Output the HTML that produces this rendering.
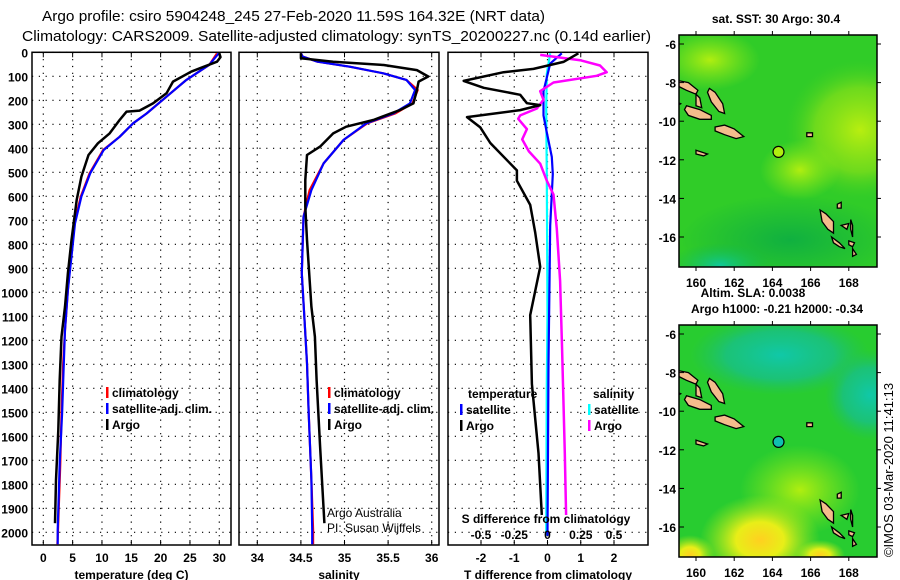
<!DOCTYPE html>
<html><head><meta charset="utf-8">
<style>
html,body{margin:0;padding:0;background:#fff;}
svg{display:block;font-family:"Liberation Sans",Arial,sans-serif;}
.b{font-weight:bold;font-size:12px;}
</style></head>
<body>
<svg id="c" width="900" height="580" viewBox="0 0 900 580" xmlns="http://www.w3.org/2000/svg">
<defs>
<clipPath id="m1"><rect x="679" y="35" width="198" height="232"/></clipPath>
<clipPath id="m2"><rect x="679" y="325" width="198" height="232"/></clipPath>
<radialGradient id="y1" cx="0.5" cy="0.5" r="0.5"><stop offset="0" stop-color="#b8ee10"/><stop offset="0.6" stop-color="#88e018" stop-opacity="0.7"/><stop offset="1" stop-color="#44d022" stop-opacity="0"/></radialGradient>
<radialGradient id="t1" cx="0.5" cy="0.5" r="0.5"><stop offset="0" stop-color="#10c898"/><stop offset="1" stop-color="#10b850" stop-opacity="0"/></radialGradient>
<radialGradient id="g1" cx="0.5" cy="0.5" r="0.5"><stop offset="0" stop-color="#10b040"/><stop offset="1" stop-color="#10b040" stop-opacity="0"/></radialGradient>
<radialGradient id="t2" cx="0.5" cy="0.5" r="0.5"><stop offset="0" stop-color="#10c8a8"/><stop offset="0.6" stop-color="#18c088" stop-opacity="0.8"/><stop offset="1" stop-color="#20c060" stop-opacity="0"/></radialGradient>
<radialGradient id="y2" cx="0.5" cy="0.5" r="0.5"><stop offset="0" stop-color="#ffd020"/><stop offset="0.4" stop-color="#e8ee18"/><stop offset="1" stop-color="#a8e818" stop-opacity="0"/></radialGradient>
<radialGradient id="y3" cx="0.5" cy="0.5" r="0.5"><stop offset="0" stop-color="#b0ee10"/><stop offset="1" stop-color="#90e818" stop-opacity="0"/></radialGradient>
</defs>
<g id="titles">
<text x="42" y="21" font-size="15" textLength="503" lengthAdjust="spacingAndGlyphs">Argo profile: csiro 5904248_245 27-Feb-2020 11.59S 164.32E (NRT data)</text>
<text x="22" y="41" font-size="15" textLength="629" lengthAdjust="spacingAndGlyphs">Climatology: CARS2009. Satellite-adjusted climatology: synTS_20200227.nc (0.14d earlier)</text>
</g>
<g id="plots"></g>
<g id="maps"></g>
</svg>
<script>
// ---- data (depth in m) ----
var tArgoDepth = [4,20,39,67,81,122,171,213,243,247,282,338,379,428,518,615,782,921,1060,1185,1365,1574,1782,1962];
var tArgo      = [30.0,30.2,29.6,26.6,25.2,22.1,21.0,18.7,16.4,14.2,13.0,11.3,9.3,7.7,6.5,5.7,4.8,4.2,3.7,3.1,2.8,2.55,2.17,2.0];
var tClimDepth = [4,52,115,185,255,296,352,407,504,601,713,851,990,1157,1296,1504,1713,1990,2050];
var tClim      = [29.6,28.3,24.4,21.0,17.6,15.3,13.0,10.2,7.9,6.4,5.3,4.7,4.2,3.7,3.4,3.1,2.9,2.5,2.4];
var tSat       = [29.9,28.3,24.4,21.0,17.6,15.3,13.0,10.3,8.0,6.5,5.4,4.8,4.2,3.7,3.5,3.2,2.8,2.45,2.45];
var sClimDepth = [4,18,39,60,88,115,157,213,255,296,365,463,574,685,921,1171,1296,1504,1782,1990,2050];
var sClim      = [34.5,34.52,34.69,35.06,35.45,35.71,35.84,35.78,35.58,35.26,34.99,34.76,34.6,34.53,34.51,34.55,34.57,34.59,34.62,34.64,34.64];
var sSat       = [34.5,34.52,34.69,35.06,35.45,35.71,35.81,35.75,35.56,35.25,34.99,34.76,34.62,34.53,34.51,34.55,34.57,34.59,34.62,34.63,34.63];
var sArgoDepth = [4,25,39,53,74,101,122,157,213,240,282,310,338,393,428,532,643,782,1060,1185,1365,1643,1962];
var sArgo      = [34.5,34.5,34.87,35.45,35.83,35.96,35.85,35.83,35.79,35.64,35.33,35.02,34.87,34.72,34.57,34.55,34.55,34.57,34.62,34.66,34.68,34.72,34.77];
var dTDepth = [4,40,69,83,119,148,177,212,220,241,270,313,378,492,535,636,751,894,1095,1382,1670,1928];
var dTArgo  = [0.93,0.48,-0.42,-1.32,-2.52,-1.92,-0.82,-0.62,-0.22,-0.82,-2.42,-2.02,-1.72,-0.92,-0.92,-0.52,-0.37,-0.22,-0.52,-0.47,-0.27,-0.17];
var dTSatDepth = [4,47,162,263,334,436,507,722,1296,2014];
var dTSat      = [0.43,0.08,-0.12,-0.12,-0.02,0.13,0.16,0.08,0.03,0.0];
var dSDepth = [11,33,55,83,98,126,162,198,234,263,277,320,363,413,464,535,593,736,952,1239,1670,1928];
var dSArgo  = [-0.055,0.245,0.395,0.445,0.37,0.045,-0.055,-0.03,-0.08,-0.205,-0.22,-0.155,-0.19,-0.14,-0.055,-0.005,0.045,0.07,0.095,0.11,0.13,0.14];
var dSSatDepth = [4,90,234,521,1095,1382,2014];
var dSSat      = [0.02,-0.005,-0.01,-0.005,0,-0.005,-0.01];
var depthTicks = [0,100,200,300,400,500,600,700,800,900,1000,1100,1200,1300,1400,1500,1600,1700,1800,1900,2000];
var tTicks = [0,5,10,15,20,25,30];
var sTicks = [34,34.5,35,35.5,36];
var dTTicks = [-2,-1,0,1,2];
var dSTicks = [-0.5,-0.25,0,0.25,0.5];
var dSTickLabels = ["-0.5","-0.25","0","0.25","0.5"];
var latTicks = [-6,-8,-10,-12,-14,-16];
var lonTicks = [160,162,164,166,168];

var NS="http://www.w3.org/2000/svg";
function mk(tag,attrs,parent){var e=document.createElementNS(NS,tag);for(var k in attrs)e.setAttribute(k,attrs[k]);parent.appendChild(e);return e;}
var plots=document.getElementById('plots');
var TOP=52.3, PXM=0.24, BOT=545;
function yD(d){return TOP+d*PXM;}
function lin(d0,p0,d1,p1){return function(v){return p0+(v-d0)*(p1-p0)/(d1-d0);};}
var xT=lin(0,43.3,30,219.3);
var xS=lin(34,257.3,36,431.7);
var xDT=lin(-2,481,2,614);
var xDS=function(v){return xDT(v*4);};

function panel(x0,x1,name,xs,ticks,labels,title){
  var g=mk('g',{},plots);
  
  
  depthTicks.forEach(function(d){
    var l=mk('line',{x1:x0,x2:x1,y1:yD(d),y2:yD(d),stroke:'#000','stroke-width':1.2,'stroke-dasharray':'1.2 5.6'},g);
    
    
  });
  ticks.forEach(function(t,i){
    var x=xs(t);
    var l=mk('line',{x1:x,x2:x,y1:TOP,y2:BOT,stroke:'#000','stroke-width':1.2,'stroke-dasharray':'1.2 5.6'},g);
    
    
    mk('line',{x1:x,x2:x,y1:TOP,y2:TOP+5,stroke:'#000','stroke-width':1},g);
    mk('line',{x1:x,x2:x,y1:BOT,y2:BOT-5,stroke:'#000','stroke-width':1},g);
    if(labels){
      var tx=mk('text',{x:x,y:562,'text-anchor':'middle','class':'b','font-size':13},g);
      tx.textContent=labels[i];
      
      
    }
  });
  var r=mk('rect',{x:x0,y:TOP,width:x1-x0,height:BOT-TOP,fill:'none',stroke:'#000','stroke-width':1.5},g);
  
  
  var tt=mk('text',{x:(x0+x1)/2,y:579,'text-anchor':'middle','class':'b','font-size':13},g);
  tt.textContent=title;
  
  
  return g;
}
function line(g,xs,vals,depths,color,w,name){
  var pts=vals.map(function(v,i){return xs(v).toFixed(1)+','+yD(depths[i]).toFixed(1);}).join(' ');
  var p=mk('polyline',{points:pts,fill:'none',stroke:color,'stroke-width':w,'stroke-linejoin':'round'},g);
  
  
}
function legend(g,x,y,color,label){
  var r=mk('rect',{x:x,y:y-10,width:2.5,height:11,fill:color},g);
  
  
  var t=mk('text',{x:x+6,y:y,'class':'b'},g);
  t.textContent=label;
  
  
}
// depth labels
depthTicks.forEach(function(d){
  var t=mk('text',{x:28,y:yD(d)+5,'text-anchor':'end','class':'b','font-size':13},plots);
  t.textContent=d;
  
  
});
// panel 1
var g1=panel(32,231,'temperature-panel',xT,tTicks,tTicks.map(String),'temperature (deg C)');
line(g1,xT,tClim,tClimDepth,'#ff0000',2.2,'temperature-climatology-line');
line(g1,xT,tSat,tClimDepth,'#0000ff',2.2,'temperature-satellite-line');
line(g1,xT,tArgo,tArgoDepth,'#000',2.5,'temperature-argo-line');
legend(g1,106,397,'#f00','climatology');
legend(g1,106,413,'#00f','satellite-adj. clim.');
legend(g1,106,429,'#000','Argo');
// panel 2
var g2=panel(239,439,'salinity-panel',xS,sTicks,sTicks.map(String),'salinity');
line(g2,xS,sClim,sClimDepth,'#ff0000',2.2,'salinity-climatology-line');
line(g2,xS,sSat,sClimDepth,'#0000ff',2.2,'salinity-satellite-line');
line(g2,xS,sArgo,sArgoDepth,'#000',2.5,'salinity-argo-line');
legend(g2,328,397,'#f00','climatology');
legend(g2,328,413,'#00f','satellite-adj. clim.');
legend(g2,328,429,'#000','Argo');
var c1=mk('text',{x:327,y:517,'font-size':12},g2);c1.textContent='Argo Australia';

var c2=mk('text',{x:327,y:532,'font-size':12},g2);c2.textContent='PI: Susan Wijffels';

// panel 3
var g3=panel(448,648,'difference-panel',xDT,dTTicks,dTTicks.map(String),'T difference from climatology');
line(g3,xDS,dSSat,dSSatDepth,'#00ffff',2.2,'salinity-satellite-diff-line');
line(g3,xDT,dTSat,dTSatDepth,'#0000ff',2.2,'temperature-satellite-diff-line');
line(g3,xDS,dSArgo,dSDepth,'#ff00ff',2.5,'salinity-argo-diff-line');
line(g3,xDT,dTArgo,dTDepth,'#000',2.5,'temperature-argo-diff-line');
var lt=mk('text',{x:468,y:398,'class':'b'},g3);lt.textContent='temperature';

var ls=mk('text',{x:593,y:398,'class':'b'},g3);ls.textContent='salinity';

legend(g3,460,414,'#00f','satellite');
legend(g3,460,430,'#000','Argo');
legend(g3,588,414,'#0ff','satellite');
legend(g3,588,430,'#f0f','Argo');
var st=mk('text',{x:546,y:523,'text-anchor':'middle','class':'b'},g3);st.textContent='S difference from climatology';

dSTicks.forEach(function(v,i){
  var t=mk('text',{x:xDS(v),y:539,'text-anchor':'middle','class':'b'},g3);
  t.textContent=dSTickLabels[i];
  
  
});

// ---- maps ----
var maps=document.getElementById('maps');
function lx(lon){return 696+(lon-160)*19.1;}
function ly(lat,y0){return y0+44+(-6-lat)*19.3;}
var islands=[
 [[159.1,-7.9],[159.6,-8.0],[160.1,-8.4],[160.0,-8.6],[159.5,-8.4],[159.1,-8.2]],
 [[160.0,-8.6],[160.2,-8.8],[160.3,-9.3],[160.0,-9.2]],
 [[160.7,-8.3],[161.0,-8.5],[161.4,-9.1],[161.5,-9.6],[161.2,-9.5],[160.8,-9.0],[160.6,-8.5]],
 [[159.5,-9.2],[160.2,-9.4],[160.8,-9.7],[160.8,-9.9],[160.2,-9.9],[159.6,-9.7],[159.4,-9.4]],
 [[161.0,-10.3],[161.5,-10.2],[162.0,-10.4],[162.5,-10.8],[162.1,-10.9],[161.5,-10.7],[161.0,-10.5]],
 [[159.0,-9.0],[159.2,-9.1],[159.0,-9.2]],
 [[160.0,-11.5],[160.6,-11.7],[160.4,-11.8],[160.0,-11.7]],
 [[166.5,-14.6],[166.8,-14.8],[167.2,-15.2],[167.2,-15.8],[166.9,-15.6],[166.6,-15.2]],
 [[167.1,-16.0],[167.5,-16.3],[167.8,-16.6],[167.5,-16.5],[167.2,-16.3]],
 [[167.6,-15.4],[168.0,-15.3],[167.9,-15.6]],
 [[168.0,-16.2],[168.3,-16.3],[168.2,-16.5],[168.0,-16.4]],
 [[167.4,-14.3],[167.6,-14.2],[167.6,-14.5],[167.4,-14.5]],
 [[168.1,-15.1],[168.2,-15.4],[168.2,-16.0],[168.1,-15.6]],
 [[165.8,-10.6],[166.1,-10.6],[166.1,-10.8],[165.8,-10.8]],
 [[168.2,-16.6],[168.4,-16.9],[168.2,-17.0]]
];
function drawMap(y0,clip,name,title,fills,dotColor){
  var g=mk('g',{},maps);
  
  
  var bg=mk('g',{'clip-path':'url(#'+clip+')'},g);
  fills.forEach(function(f){mk(f[0],f[1],bg);});
  islands.forEach(function(isl){
    var pts=isl.map(function(p){return lx(p[0]).toFixed(1)+','+ly(p[1],y0).toFixed(1);}).join(' ');
    var p=mk('polygon',{points:pts,fill:'#f4bc8c',stroke:'#000','stroke-width':1.3},bg);
    
    
  });
  var dot=mk('circle',{cx:lx(164.32),cy:ly(-11.59,y0),r:5.5,fill:dotColor,stroke:'#000','stroke-width':1.2},g);
  
  
  var fr=mk('rect',{x:679,y:y0+35,width:198,height:232,fill:'none',stroke:'#000','stroke-width':1.5},g);
  
  
  latTicks.forEach(function(la){
    var y=ly(la,y0);
    mk('line',{x1:679,x2:684,y1:y,y2:y,stroke:'#000'},g);
    mk('line',{x1:877,x2:881,y1:y,y2:y,stroke:'#000'},g);
    var t=mk('text',{x:676,y:y+5,'text-anchor':'end','class':'b','font-size':13},g);
    t.textContent=la;
    
    
  });
  lonTicks.forEach(function(lo){
    var x=lx(lo);
    mk('line',{x1:x,x2:x,y1:y0+31,y2:y0+35,stroke:'#000'},g);
    mk('line',{x1:x,x2:x,y1:y0+267,y2:y0+271,stroke:'#000'},g);
    var t=mk('text',{x:x,y:y0+287,'text-anchor':'middle','class':'b','font-size':13},g);
    t.textContent=lo;
    
    
  });
  title.forEach(function(tl){
    var t=mk('text',{x:tl[0],y:tl[1],'text-anchor':'middle','class':'b','font-size':12.5},g);
    t.textContent=tl[2];
    
    
  });
}
drawMap(0,'m1','sst-map',[[776,23,'sat. SST: 30 Argo: 30.4']],[
 ['rect',{x:679,y:35,width:198,height:232,fill:'#30cc28'}],
 ['ellipse',{cx:710,cy:60,rx:50,ry:30,fill:'url(#y3)'}],
 ['ellipse',{cx:860,cy:130,rx:75,ry:70,fill:'url(#y1)'}],
 ['ellipse',{cx:800,cy:170,rx:40,ry:30,fill:'url(#y3)'}],
 ['ellipse',{cx:790,cy:240,rx:110,ry:45,fill:'url(#g1)'}],
 ['ellipse',{cx:720,cy:265,rx:50,ry:22,fill:'url(#t1)'}]
],'#b0ee10');
drawMap(290,'m2','sla-map',[[753,297,'Altim. SLA: 0.0038'],[777,313,'Argo h1000: -0.21 h2000: -0.34']],[
 ['rect',{x:679,y:325,width:198,height:232,fill:'#28cc30'}],
 ['ellipse',{cx:780,cy:355,rx:90,ry:40,fill:'url(#t2)'}],
 ['ellipse',{cx:870,cy:395,rx:45,ry:45,fill:'url(#t2)'}],
 ['ellipse',{cx:800,cy:490,rx:60,ry:45,fill:'url(#y3)'}],
 ['ellipse',{cx:760,cy:540,rx:60,ry:45,fill:'url(#y2)'}],
 ['ellipse',{cx:690,cy:555,rx:25,ry:20,fill:'url(#y2)'}],
 ['ellipse',{cx:820,cy:555,rx:25,ry:15,fill:'url(#y2)'}]
],'#10c0b0');
var cr=mk('text',{x:0,y:0,'font-size':13,transform:'translate(893,470) rotate(-90)','text-anchor':'middle'},maps);
cr.textContent='©IMOS 03-Mar-2020 11:41:13';


</script>
</body></html>
